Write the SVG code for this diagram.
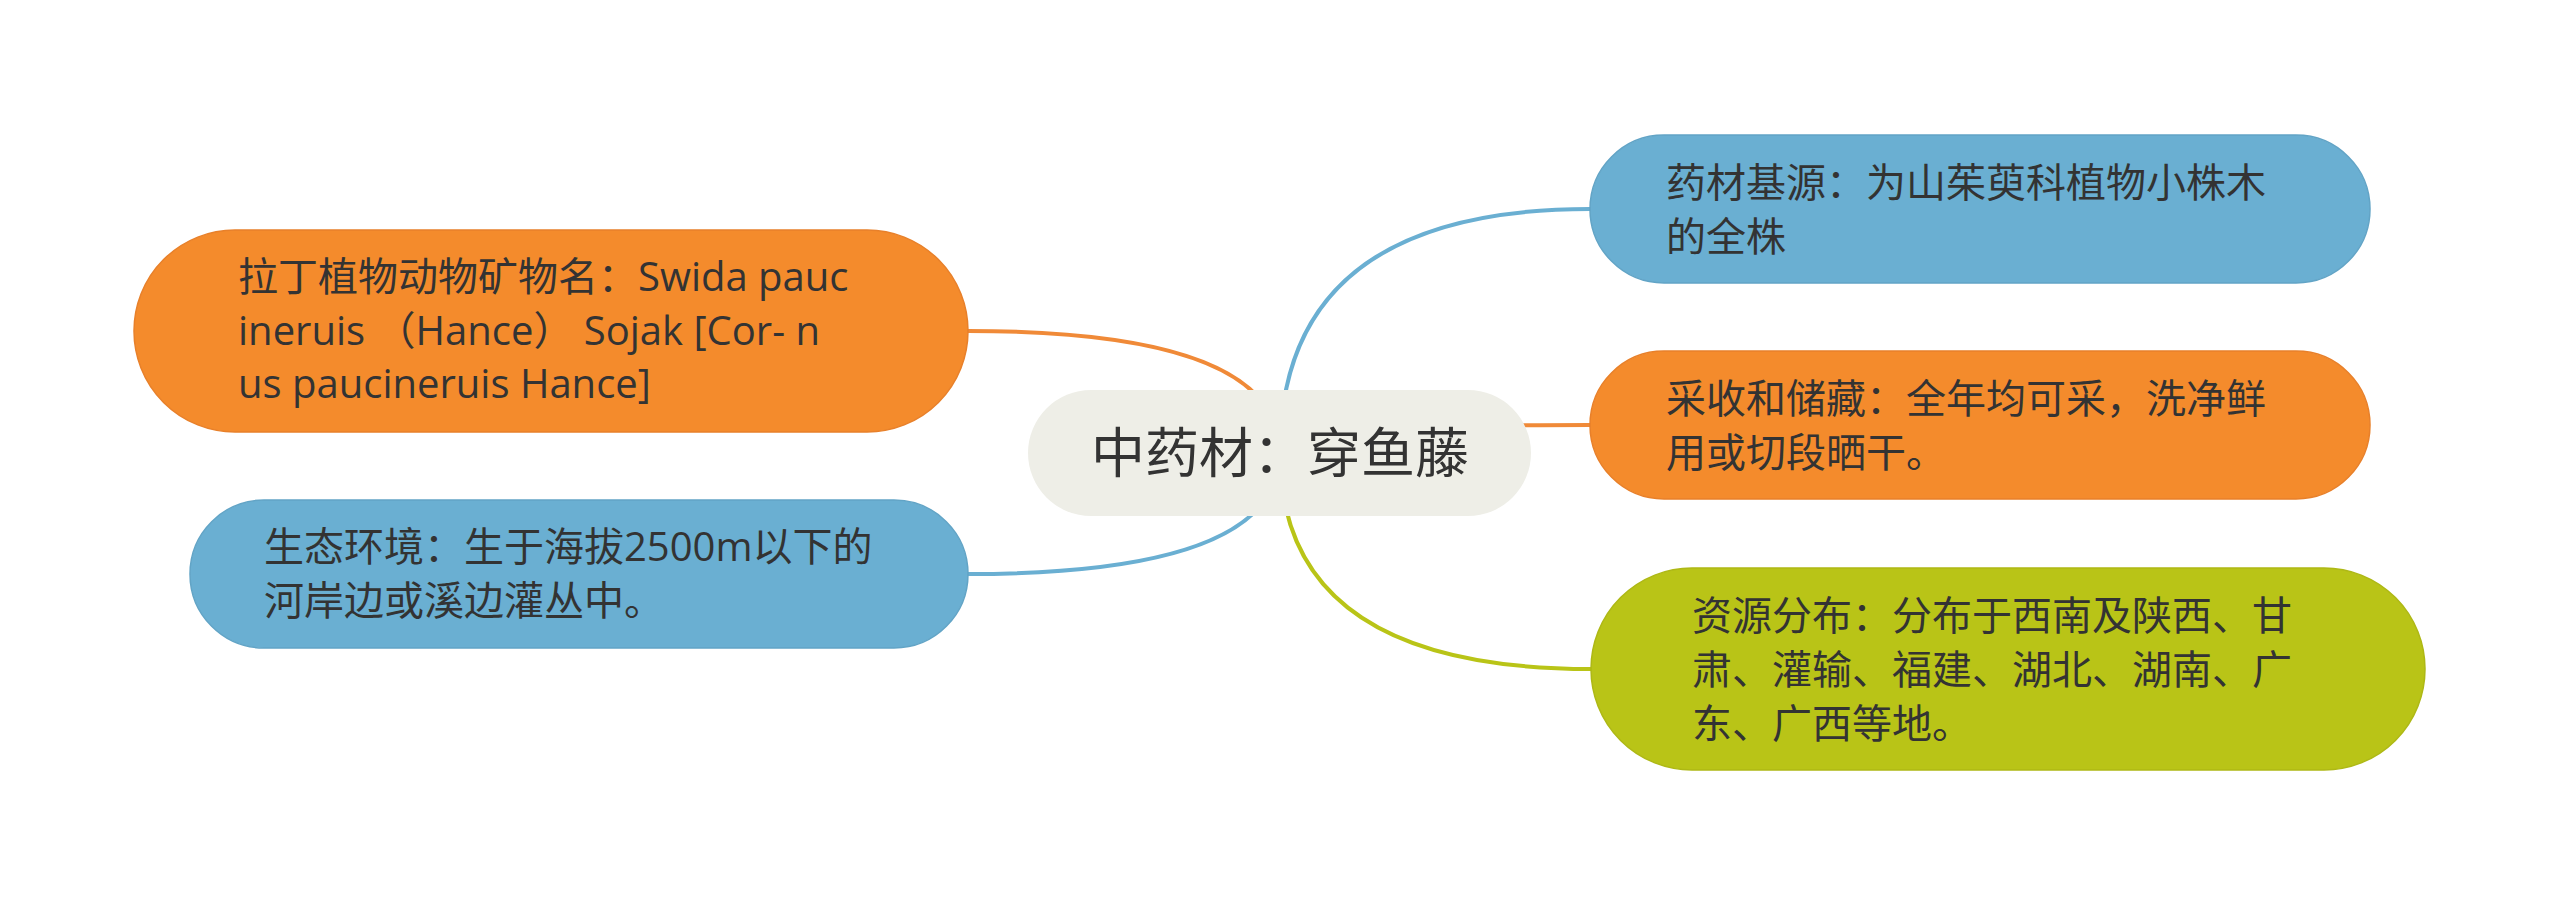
<svg xmlns="http://www.w3.org/2000/svg" width="2560" height="906" viewBox="0 0 2560 906">
<style>
.t{font-family:"Open Sans","Noto Sans CJK SC",sans-serif;fill:#333333;font-size:40px}
.root{font-family:"Noto Sans CJK SC",sans-serif;fill:#333333;font-size:54px}
.c{fill:none;stroke-width:4;stroke-linecap:round}
.o{fill:#F48B2C;stroke:#E8802A;stroke-width:1.5}
.b{fill:#6AAFD2;stroke:#62A4C6;stroke-width:1.5}
.g{fill:#B9C417;stroke:#AEB815;stroke-width:1.5}
</style>
<rect width="2560" height="906" fill="#FFFFFF"/>
<g id="connectors">
<path class="c" stroke="#F08A38" d="M1280 453 Q1280 331 968 331"/>
<path class="c" stroke="#6AAFD2" d="M1280 453 Q1280 574 968 574"/>
<path class="c" stroke="#6AAFD2" d="M1280 453 Q1280 209 1590 209"/>
<path class="c" stroke="#F08A38" d="M1280 453 Q1280 425 1590 425"/>
<path class="c" stroke="#B9C417" d="M1280 453 Q1280 669 1591 669"/>
</g>
<g id="root">
<rect x="1028" y="390" width="503" height="126" rx="63" ry="63" fill="#EEEEE7"/>
<text class="root" x="1280" y="473" text-anchor="middle">中药材：穿鱼藤</text>
</g>
<g id="node-latin">
<rect class="o" x="134" y="230" width="834" height="202" rx="101" ry="101"/>
<text class="t" x="238" y="291">拉丁植物动物矿物名：Swida pauc</text>
<text class="t" x="238" y="345">ineruis （Hance） Sojak [Cor- n</text>
<text class="t" x="238" y="398">us paucineruis Hance]</text>
</g>
<g id="node-habitat">
<rect class="b" x="190" y="500" width="778" height="148" rx="74" ry="74"/>
<text class="t" x="264" y="561">生态环境：生于海拔2500m以下的</text>
<text class="t" x="264" y="615">河岸边或溪边灌丛中。</text>
</g>
<g id="node-source">
<rect class="b" x="1590" y="135" width="780" height="148" rx="74" ry="74"/>
<text class="t" x="1666" y="197">药材基源：为山茱萸科植物小株木</text>
<text class="t" x="1666" y="251">的全株</text>
</g>
<g id="node-harvest">
<rect class="o" x="1590" y="351" width="780" height="148" rx="74" ry="74"/>
<text class="t" x="1666" y="413">采收和储藏：全年均可采，洗净鲜</text>
<text class="t" x="1666" y="467">用或切段晒干。</text>
</g>
<g id="node-distribution">
<rect class="g" x="1591" y="568" width="834" height="202" rx="101" ry="101"/>
<text class="t" x="1692" y="630">资源分布：分布于西南及陕西、甘</text>
<text class="t" x="1692" y="684">肃、灌输、福建、湖北、湖南、广</text>
<text class="t" x="1692" y="738">东、广西等地。</text>
</g>
</svg>
